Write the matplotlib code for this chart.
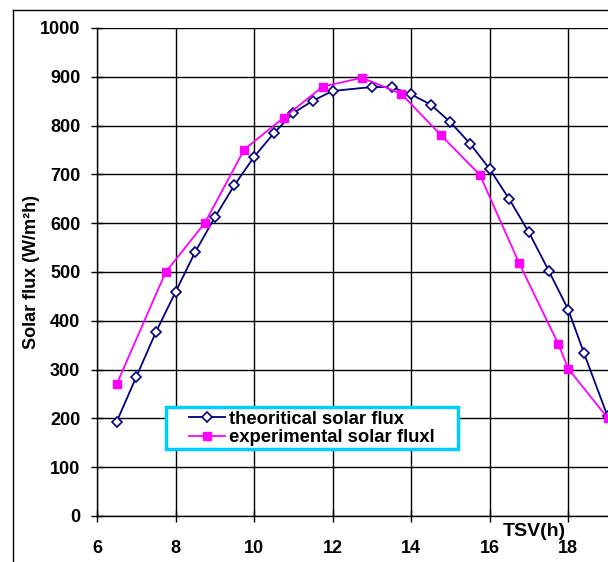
import matplotlib
matplotlib.use('Agg')
import matplotlib.pyplot as plt
from matplotlib.patches import Rectangle
from matplotlib.lines import Line2D

plt.rcParams['font.family'] = ['Liberation Sans', 'DejaVu Sans']
plt.rcParams['font.weight'] = 'bold'

# theoretical solar flux
tsv_theo = [6.5, 7, 7.5, 8, 8.5, 9, 9.5, 10, 10.5, 11, 11.5, 12, 13,
            13.5, 14, 14.5, 15, 15.5, 16, 16.5, 17, 17.5, 18, 18.4, 19]
flux_theo = [193, 285, 377, 459, 541, 612, 678, 736, 784, 826, 851, 871, 879,
             879, 864, 843, 807, 763, 711, 649, 581, 503, 423, 334, 205]

# experimental solar flux
tsv_exp = [6.5, 7.75, 8.75, 9.75, 10.75, 11.75, 12.75, 13.75, 14.75,
           15.75, 16.75, 17.75, 18, 19]
flux_exp = [270, 500, 601, 751, 816, 880, 898, 865, 781, 699, 518, 352, 302, 201]

W, H = 608, 562
fig = plt.figure(figsize=(W / 100, H / 100), dpi=100)
ax = fig.add_axes([97 / W, 1 - 516 / H, (607.5 - 97) / W, (516 - 28) / H])

ax.plot(tsv_theo, flux_theo, color='#000080', lw=1.3, marker='D',
        markersize=5.3, markerfacecolor='white', markeredgecolor='#000080',
        markeredgewidth=1.2, label='theoritical solar flux', zorder=3)
ax.plot(tsv_exp, flux_exp, color='#FF00FF', lw=1.3, marker='s',
        markersize=6, markerfacecolor='#FF00FF', markeredgecolor='#FF00FF',
        label='experimental solar fluxl', zorder=3)

ax.set_xlim(6, 19)
ax.set_ylim(0, 1000)
ax.set_xticks(range(6, 19, 2))
ax.set_yticks(range(0, 1001, 100))
ax.grid(True, color='black', lw=1)
ax.set_axisbelow(True)
for s in ['top', 'right']:
    ax.spines[s].set_visible(False)
for s in ['left', 'bottom']:
    ax.spines[s].set_linewidth(1)

ax.tick_params(axis='y', direction='inout', length=8, width=1, pad=8, labelsize=13)
ax.tick_params(axis='x', direction='inout', length=8, width=1, pad=13, labelsize=13)
for lab in ax.get_xticklabels() + ax.get_yticklabels():
    lab.set_fontweight('bold')

ax.set_ylabel('Solar flux (W/m²h)', fontsize=13, fontweight='bold')
ax.yaxis.set_label_coords((40 - 97) / 510.5, 0.5)
fig.text(534.5 / W, 1 - 532 / H, 'TSV(h)', fontsize=14, fontweight='bold',
         ha='center', va='center')

# legend box
box = Rectangle((166 / W, 1 - 449 / H), (458 - 166) / W, (449 - 407) / H,
                transform=fig.transFigure, facecolor='white',
                edgecolor='#00CCFF', lw=2.5, clip_on=False, zorder=4)
ax.add_patch(box)
leg = ax.legend(loc='upper left', bbox_to_anchor=(186 / W, 1 - 408 / H),
                bbox_transform=fig.transFigure, frameon=False,
                handlelength=1.95, handletextpad=0.25, labelspacing=0.08,
                borderpad=0.15, borderaxespad=0, numpoints=1,
                prop={'weight': 'bold', 'size': 13.3})
leg.set_zorder(5)

# outer chart border
fig.add_artist(Line2D([13 / W, 13 / W], [0, 1 - 10 / H], color='black', lw=1))
fig.add_artist(Line2D([13 / W, 1], [1 - 10 / H, 1 - 10 / H], color='black', lw=1))

fig.savefig('out.png', dpi=100)
